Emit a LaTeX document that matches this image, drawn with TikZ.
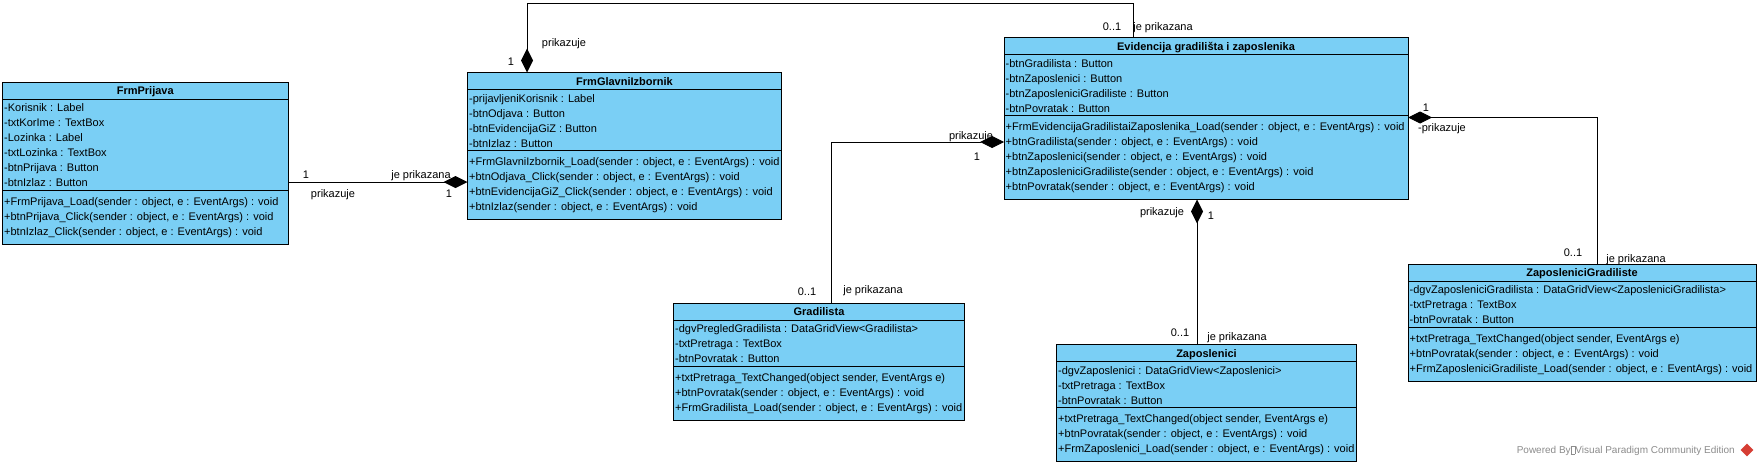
\documentclass[tikz,border=0pt]{standalone}
\usepackage{fontspec}
\setmainfont{Liberation Sans}
\usetikzlibrary{arrows.meta,shapes.geometric,calc}
\definecolor{umlblue}{RGB}{122,207,245}
\definecolor{wmgray}{RGB}{140,140,140}
\definecolor{vpred}{RGB}{214,62,52}
\newcommand\fs{\fontsize{11}{15}\selectfont}
\tikzset{
  classbox/.style={draw=black, fill=umlblue, line width=1pt, rectangle, inner sep=0pt, outer sep=0pt, anchor=north west},
  sepline/.style={draw=black, line width=1pt},
  ttl/.style={font=\fs\bfseries, inner sep=0pt, anchor=base},
  rowsty/.style={font=\fs, inner sep=0pt, anchor=base west},
  lbl/.style={font=\fs, inner sep=0pt, anchor=base, text=black},
  conn/.style={draw=black, line width=1pt},
  compo/.style={conn, arrows={{Diamond[length=24pt,width=12pt]}-}},
}
% #1 name #2 x #3 ytop #4 width #5 nattr #6 nmeth #7 title #8 attrs #9 methods
\newcommand\umlcls[9]{%
  \pgfmathsetmacro\hA{#5*15+1}%
  \pgfmathsetmacro\hM{#6*15+9}%
  \pgfmathsetmacro\hH{17+\hA+\hM}%
  \pgfmathsetmacro\sB{17+\hA}%
  \node[classbox, minimum width=#4pt, minimum height=\hH pt] (#1) at (#2,#3) {};
  \draw[sepline] ([yshift=-17pt]#1.north west) -- ([yshift=-17pt]#1.north east);
  \draw[sepline] ([yshift=-\sB pt]#1.north west) -- ([yshift=-\sB pt]#1.north east);
  \node[ttl] (#1-t) at ([yshift=-12.5pt]#1.north) {#7};
  \foreach \rowtxt [count=\ri] in {#8} {
    \pgfmathsetmacro\yy{17+1+15*\ri-7.5+4}
    \node[rowsty] (#1-a\ri) at ([xshift=1.5pt,yshift=-\yy pt]#1.north west) {\rowtxt};
  }
  \foreach \rowtxt [count=\ri] in {#9} {
    \pgfmathsetmacro\yy{\sB+11+15*(\ri-1)+4}
    \node[rowsty] (#1-m\ri) at ([xshift=1.5pt,yshift=-\yy pt]#1.north west) {\rowtxt};
  }
}
\begin{document}
\begin{tikzpicture}[x=1pt,y=-1pt]
\useasboundingbox[fill=white] (0,0) rectangle (1759,466);

\umlcls{prijava}{2.5}{82}{285.5}{6}{3}{FrmPrijava}
 {{-Korisnik : Label},{-txtKorIme : TextBox},{-Lozinka : Label},{-txtLozinka : TextBox},{-btnPrijava : Button},{-btnIzlaz : Button}}
 {{+FrmPrijava\_Load(sender : object, e : EventArgs) : void},{+btnPrijava\_Click(sender : object, e : EventArgs) : void},{+btnIzlaz\_Click(sender : object, e : EventArgs) : void}}

\umlcls{glavni}{467.5}{72.5}{314}{4}{4}{FrmGlavniIzbornik}
 {{-prijavljeniKorisnik : Label},{-btnOdjava : Button},{-btnEvidencijaGiZ : Button},{-btnIzlaz : Button}}
 {{+FrmGlavniIzbornik\_Load(sender : object, e : EventArgs) : void},{+btnOdjava\_Click(sender : object, e : EventArgs) : void},{+btnEvidencijaGiZ\_Click(sender : object, e : EventArgs) : void},{+btnIzlaz(sender : object, e : EventArgs) : void}}

\umlcls{evid}{1004}{37.5}{404}{4}{5}{Evidencija gradilišta i zaposlenika}
 {{-btnGradilista : Button},{-btnZaposlenici : Button},{-btnZaposleniciGradiliste : Button},{-btnPovratak : Button}}
 {{+FrmEvidencijaGradilistaiZaposlenika\_Load(sender : object, e : EventArgs) : void},{+btnGradilista(sender : object, e : EventArgs) : void},{+btnZaposlenici(sender : object, e : EventArgs) : void},{+btnZaposleniciGradiliste(sender : object, e : EventArgs) : void},{+btnPovratak(sender : object, e : EventArgs) : void}}

\umlcls{grad}{673.5}{303}{291}{3}{3}{Gradilista}
 {{-dgvPregledGradilista : DataGridView<Gradilista>},{-txtPretraga : TextBox},{-btnPovratak : Button}}
 {{+txtPretraga\_TextChanged(object sender, EventArgs e)},{+btnPovratak(sender : object, e : EventArgs) : void},{+FrmGradilista\_Load(sender : object, e : EventArgs) : void}}

\umlcls{zap}{1056.5}{344.5}{300}{3}{3}{Zaposlenici}
 {{-dgvZaposlenici : DataGridView<Zaposlenici>},{-txtPretraga : TextBox},{-btnPovratak : Button}}
 {{+txtPretraga\_TextChanged(object sender, EventArgs e)},{+btnPovratak(sender : object, e : EventArgs) : void},{+FrmZaposlenici\_Load(sender : object, e : EventArgs) : void}}

\umlcls{zg}{1408}{264}{348}{3}{3}{ZaposleniciGradiliste}
 {{-dgvZaposleniciGradilista : DataGridView<ZaposleniciGradilista>},{-txtPretraga : TextBox},{-btnPovratak : Button}}
 {{+txtPretraga\_TextChanged(object sender, EventArgs e)},{+btnPovratak(sender : object, e : EventArgs) : void},{+FrmZaposleniciGradiliste\_Load(sender : object, e : EventArgs) : void}}

% labels (drawn under the connectors, as in the reference)
\node[lbl] (la1) at (306,178) {1};
\node[lbl] (la2) at (333,197) {prikazuje};
\node[lbl] (la3) at (421,178) {je prikazana};
\node[lbl] (la4) at (449,197) {1};

\node[lbl] (lb1) at (511,65) {1};
\node[lbl] (lb2) at (564,46.5) {prikazuje};
\node[lbl] (lb3) at (1112,30) {0..1};
\node[lbl] (lb4) at (1163,30) {je prikazana};

\node[lbl] (lc1) at (971,139) {prikazuje};
\node[lbl] (lc2) at (977,160) {1};
\node[lbl] (lc3) at (807,295.5) {0..1};
\node[lbl] (lc4) at (873,293) {je prikazana};

\node[lbl] (ld1) at (1162,215.5) {prikazuje};
\node[lbl] (ld2) at (1211,219) {1};
\node[lbl] (ld3) at (1180,336.5) {0..1};
\node[lbl] (ld4) at (1237,340.5) {je prikazana};

\node[lbl] (le1) at (1426,111) {1};
\node[lbl] (le2) at (1442,131.5) {-prikazuje};
\node[lbl] (le3) at (1573,256.5) {0..1};
\node[lbl] (le4) at (1636,262) {je prikazana};

% connectors
\coordinate (aS) at ([yshift=-100pt]prijava.north east);
\draw[compo] (aS -| glavni.west) -- (aS);

\coordinate (bS) at ([xshift=59.5pt]glavni.north west);
\coordinate (bE) at ([xshift=129pt]evid.north west);
\coordinate (bTop) at ([yshift=34.5pt]bE);
\draw[compo] (bS) -- (bS |- bTop) -- (bTop) -- (bE);

\coordinate (cS) at ([yshift=-104.5pt]evid.north west);
\coordinate (cE) at ([xshift=157.5pt]grad.north west);
\draw[compo] (cS) -- (cS -| cE) -- (cE);

\coordinate (dS) at ([xshift=193pt]evid.south west);
\draw[compo] (dS) -- (dS |- zap.north);

\coordinate (eS) at ([yshift=-80pt]evid.north east);
\coordinate (eE) at ([xshift=189pt]zg.north west);
\draw[compo] (eS) -- (eS -| eE) -- (eE);

% watermark
\node[font=\fontsize{10}{12}\selectfont, text=wmgray, anchor=base east, inner sep=0pt] (wm) at (1735,453.5)
  {Powered By{\fboxsep=0pt\fboxrule=0.4pt\color{wmgray}\fbox{\rule{0pt}{7pt}\hspace{4pt}}}Visual Paradigm Community Edition};
\node[diamond, fill=vpred, minimum size=13pt, inner sep=0pt] (logo) at (1747,450) {};
\end{tikzpicture}
\end{document}
